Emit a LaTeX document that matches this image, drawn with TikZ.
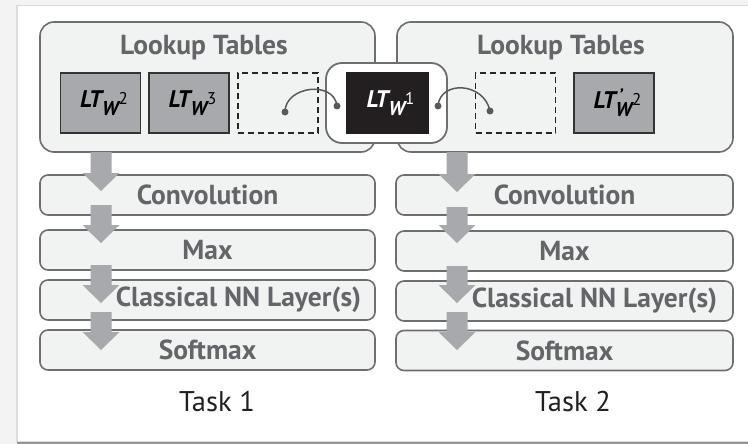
\documentclass[tikz,border=0pt]{standalone}
\usepackage{fontspec}
\setmainfont{PT Sans}
\usetikzlibrary{calc}
\definecolor{bgout}{HTML}{F3F3F3}
\definecolor{boxfill}{HTML}{F1F2F2}
\definecolor{boxline}{HTML}{6D6E71}
\definecolor{labgray}{HTML}{646569}
\definecolor{arrgray}{HTML}{A7A9AC}
\definecolor{ltgray}{HTML}{A7A9AC}
\definecolor{ltdark}{HTML}{231F20}
\definecolor{linkgray}{HTML}{58595B}
\newcommand{\ltlab}[1]{{\fontsize{24}{24}\selectfont\bfseries\itshape LT}\raisebox{-8pt}{\fontsize{20}{20}\selectfont\bfseries\itshape W}\raisebox{3pt}{\fontsize{17}{17}\selectfont #1}}
\newcommand{\ltlabprime}[1]{{\fontsize{24}{24}\selectfont\bfseries\itshape LT}\rlap{\raisebox{7pt}{\hspace{3pt}\fontsize{18}{18}\selectfont\bfseries\itshape '}}\raisebox{-8pt}{\fontsize{20}{20}\selectfont\bfseries\itshape W}\raisebox{3pt}{\fontsize{17}{17}\selectfont #1}}
\newcommand{\fatarr}[3]{\fill[arrgray] (#1-10.5,#2) -- (#1+10.5,#2) -- (#1+10.5,#3-18) -- (#1+18.5,#3-18) -- (#1,#3) -- (#1-18.5,#3-18) -- (#1-10.5,#3-18) -- cycle;}
\begin{document}
\begin{tikzpicture}[x=1pt,y=-1pt,
  lookup/.style={draw=boxline, line width=1.6pt, fill=boxfill, rounded corners=14pt, inner sep=0pt, outer sep=0pt, minimum height=130pt},
  layer/.style={draw=boxline, line width=1.6pt, fill=boxfill, rounded corners=8pt, minimum height=40pt, inner sep=0pt, outer sep=0pt, font=\fontsize{27.5}{27.5}\selectfont\bfseries, text=labgray},
  ltbox/.style={draw=black!80, line width=1.2pt, fill=ltgray, minimum width=80pt, minimum height=60pt, inner sep=0pt, outer sep=0pt},
  dashbox/.style={draw=black!85, line width=1.3pt, dash pattern=on 6pt off 4pt, minimum width=80pt, minimum height=60pt, inner sep=0pt, outer sep=0pt},
  holder/.style={draw=boxline, line width=1.8pt, fill=white, rounded corners=16pt, minimum width=121pt, minimum height=80pt, inner sep=0pt, outer sep=0pt},
  titletext/.style={font=\fontsize{27.5}{27.5}\selectfont\bfseries, text=labgray, inner sep=0pt, anchor=base},
  tasktext/.style={font=\fontsize{28.5}{28.5}\selectfont, text=ltdark, inner sep=0pt, anchor=base},
  link/.style={draw=linkgray, line width=1.5pt},
  linkdot/.style={circle, fill=linkgray, minimum size=7pt, inner sep=0pt}
]
\useasboundingbox (0,0) rectangle (748,444);
% page background
\fill[bgout] (0,0) rectangle (748,444);
\fill[black!14] (16,5) rectangle (748,442);
\fill[white] (18,6) rectangle (748,441);
\fill[black!42] (17,441.8) rectangle (748,444);

% lookup table panels
\node[lookup, minimum width=335pt] (lt1) at (207.5,87) {};
\node[lookup, minimum width=336pt] (lt2) at (565,87) {};
\node[titletext] (lt1t) at (204,55) {Lookup Tables};
\node[titletext] (lt2t) at (561,55) {Lookup Tables};

% tables
\node[ltbox] (w2) at (100.5,103) {\hspace*{7pt}\ltlab{2}};
\node[ltbox] (w3) at (189,103) {\hspace*{7pt}\ltlab{3}};
\node[dashbox] (e1) at (278,103) {};
\node[holder] (hold) at (386.5,103) {};
\node[ltbox, fill=ltdark, draw=ltdark, minimum width=81pt, text=white] (w1) at (387.5,103) {\hspace*{6pt}\ltlab{1}};
\node[dashbox] (e2) at (515.5,103) {};
\node[ltbox] (w2p) at (614,103) {\hspace*{7pt}\ltlabprime{2}};

% layers, task 1
\node[layer, minimum width=335pt] (c1) at (207.5,195) {Convolution};
\node[layer, minimum width=335pt] (m1) at (207.5,250) {Max};
\node[layer, minimum width=335pt, label={[titletext, anchor=center, xshift=31pt]center:Classical NN Layer(s)}] (n1) at (207.5,300) {};
\node[layer, minimum width=335pt] (s1) at (207.5,350) {Softmax};
% layers, task 2
\node[layer, minimum width=337pt] (c2) at (564.5,195) {Convolution};
\node[layer, minimum width=337pt] (m2) at (564.5,251) {Max};
\node[layer, minimum width=337pt, label={[titletext, anchor=center, xshift=30pt]center:Classical NN Layer(s)}] (n2) at (564.5,301) {};
\node[layer, minimum width=337pt] (s2) at (564.5,350.5) {Softmax};

% fat arrows
\fatarr{101}{152}{191}
\fatarr{101}{205}{243}
\fatarr{101}{265}{303}
\fatarr{101}{312}{350}
\fatarr{457}{152}{192}
\fatarr{457}{207}{243}
\fatarr{457}{266}{303}
\fatarr{457}{312}{350}

% sharing links
\coordinate (p1) at (285,112);
\coordinate (p2) at (337,106);
\coordinate (p3) at (438,106);
\coordinate (p4) at (490,111);
\draw[link] (p1) .. controls (285,86) and (334,80) .. (p2);
\draw[link] (p3) .. controls (440,80) and (484,82) .. (p4);
\node[linkdot] (d1) at (p1) {};
\node[linkdot] (d2) at (p2) {};
\node[linkdot] (d3) at (p3) {};
\node[linkdot] (d4) at (p4) {};

% task labels
\node[tasktext] (t1) at (217,411) {Task 1};
\node[tasktext] (t2) at (573,411) {Task 2};
\end{tikzpicture}
\end{document}
